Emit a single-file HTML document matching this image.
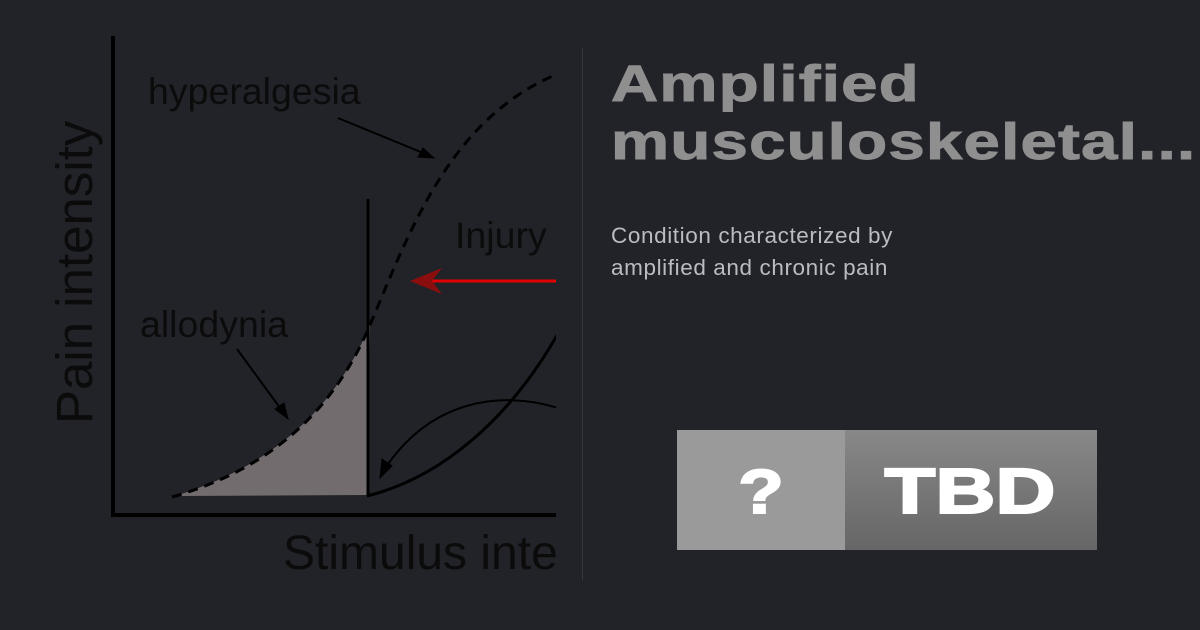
<!DOCTYPE html>
<html><head><meta charset="utf-8"><style>
html,body{margin:0;padding:0;background:#212328;width:1200px;height:630px;overflow:hidden;font-family:"Liberation Sans",sans-serif}
.t{position:absolute;left:611px;color:#8f8f8f;font-weight:bold;font-size:51px;line-height:1;transform-origin:0 0;transform:scaleX(1.28);letter-spacing:1px;white-space:nowrap;-webkit-text-stroke:1px #8f8f8f}
.d{position:absolute;left:611px;top:220px;color:#b9bcc2;font-size:22.5px;line-height:32px;letter-spacing:0.6px}
</style></head><body>
<svg width="1200" height="630" style="position:absolute;left:0;top:0">
<defs><clipPath id="c"><rect x="0" y="0" width="556" height="630"/></clipPath>
<linearGradient id="g" x1="0" y1="0" x2="0" y2="1"><stop offset="0" stop-color="#888"/><stop offset="1" stop-color="#666"/></linearGradient></defs>
<line x1="582.5" y1="48" x2="582.5" y2="580" stroke="#35373c" stroke-width="1"/>
<g clip-path="url(#c)" fill="none" stroke="#000">
<path d="M175,496 C260,470 330,420 370,325 L367,495 Z" fill="#726c6e" stroke="none"/>
<line x1="113" y1="36" x2="113" y2="516" stroke-width="4"/>
<line x1="111" y1="515" x2="560" y2="515" stroke-width="4"/>
<line x1="368" y1="199" x2="368" y2="496" stroke-width="3"/>
<path d="M172,497 C260,472 330,420 370,325 C410,230 450,120 555,75" stroke-width="3" stroke-dasharray="10,7"/>
<path d="M367,496 C440,478 510,420 560,330" stroke-width="3"/>
<path d="M558,408 C500,390 430,400 384,470" stroke-width="2"/>
<path d="M380,478 L382,459 L392,466 Z" fill="#000"/>
<line x1="338" y1="118" x2="428" y2="155" stroke-width="2"/>
<path d="M434,158 L418,157 L423,148 Z" fill="#000"/>
<line x1="237" y1="349" x2="283" y2="412" stroke-width="2"/>
<path d="M288,419 L275,409 L284,403 Z" fill="#000"/>
<line x1="422" y1="281" x2="560" y2="281" stroke="#e10000" stroke-width="3"/>
<path d="M410,281 L442,268 L432,281 L442,294 Z" fill="#8a0e0e" stroke="none"/>
<g fill="#0b0b0b" stroke="none" font-family="Liberation Sans, sans-serif">
<text x="148" y="104" font-size="37.5">hyperalgesia</text>
<text x="455" y="248" font-size="37.5">Injury</text>
<text x="140" y="337" font-size="37.5">allodynia</text>
<text x="283" y="569" font-size="48">Stimulus intensity</text>
<text transform="translate(92,424) rotate(-90)" font-size="51">Pain intensity</text>
</g>
</g>
<rect x="677" y="430" width="168" height="120" fill="#9a9a9a"/>
<rect x="845" y="430" width="252" height="120" fill="url(#g)"/>
<g fill="#fff" stroke="#fff" stroke-width="2" font-family="Liberation Sans, sans-serif" font-weight="bold" text-anchor="middle">
<text x="761" y="513" font-size="62" transform="translate(761,0) scale(1.2,1) translate(-761,0)">?</text>
<text x="970" y="513" font-size="64" transform="translate(970,0) scale(1.3,1) translate(-970,0)">TBD</text>
</g>
</svg>
<div class="t" style="top:58px">Amplified</div>
<div class="t" style="top:116px">musculoskeletal...</div>
<div class="d">Condition characterized by<br>amplified and chronic pain</div>
</body></html>
